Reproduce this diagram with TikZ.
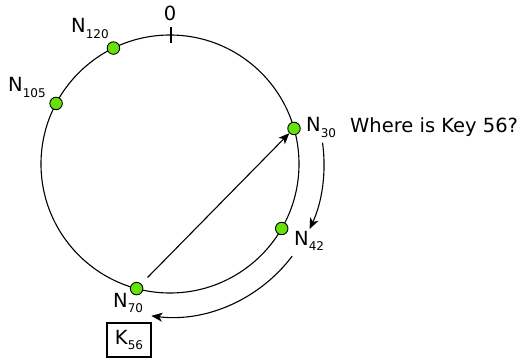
\documentclass[tikz,border=0pt]{standalone}
\usepackage{fontspec}
\setmainfont{DejaVu Sans}
\usetikzlibrary{arrows.meta,calc}
\definecolor{dotgreen}{RGB}{102,226,10}
\newcommand{\nlab}[2]{#1{\fontsize{12}{12}\selectfont\raisebox{-5.5pt}{#2}}}
\begin{document}
\begin{tikzpicture}[x=1pt,y=-1pt,
  peer/.style={circle,draw=black,fill=dotgreen,line width=0.9pt,minimum size=12.5pt,inner sep=0pt},
  lbl/.style={anchor=base west,inner sep=0pt,font=\fontsize{19.5}{21}\selectfont},
  arr/.style={line width=1.1pt,-{Stealth[length=11pt,width=9pt,inset=3pt]}},
  ring/.style={line width=1.1pt}]
\useasboundingbox (0,0) rectangle (519,358);
\coordinate (c) at (170,164);
\draw[ring] (c) circle[radius=129];
% zero tick
\coordinate (t1) at (171,27);
\coordinate (t2) at (171,43);
\draw[ring] (t1) -- (t2);
\node[anchor=base,inner sep=0pt,font=\fontsize{19.5}{21}\selectfont] (zero) at (170,21) {0};
% peers
\node[peer] (n120) at ($(c)+(-116:129)$) {};
\node[peer] (n105) at ($(c)+(-152:129)$) {};
\node[peer] (n30) at ($(c)+(-16:129)$) {};
\node[peer] (n42) at ($(c)+(30:129)$) {};
\node[peer] (n70) at ($(c)+(105:129)$) {};
% labels
\node[lbl] (l120) at (71,33) {\nlab{N}{120}};
\node[lbl] (l105) at (8,92) {\nlab{N}{105}};
\node[lbl] (l30) at (306,132) {\nlab{N}{30}};
\node[lbl] (l42) at (294,245) {\nlab{N}{42}};
\node[lbl] (l70) at (113,307) {\nlab{N}{70}};
\node[lbl] (q) at (350,133) {Where is Key 56?};
\node[draw,line width=1.1pt,minimum width=44pt,minimum height=34pt,inner sep=0pt,font=\fontsize{19.5}{21}\selectfont] (k56) at (129,340) {\nlab{K}{56}};
% straight arrow
\draw[arr,shorten <=9pt] (n70) -- (n30);
% arcs
\coordinate (a1) at ($(c)+(-8:154)$);
\coordinate (a2) at ($(c)+(37:153)$);
\draw[arr] (a1) arc[start angle=-8,end angle=25,radius=154];
\draw[arr] (a2) arc[start angle=37,end angle=97,radius=153];
\end{tikzpicture}
\end{document}
